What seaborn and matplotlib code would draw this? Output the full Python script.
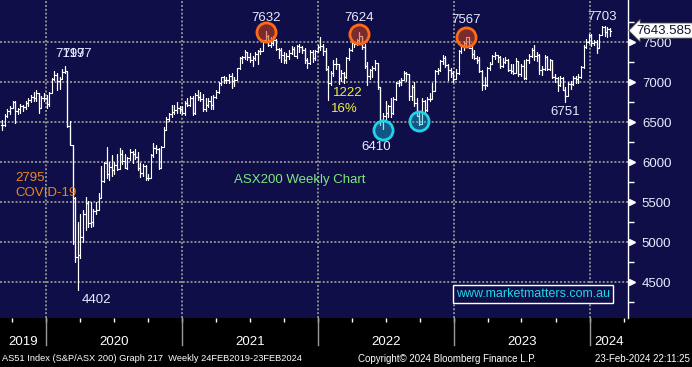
import matplotlib
matplotlib.use("Agg")
import matplotlib.pyplot as plt
import matplotlib.transforms as mtransforms
from matplotlib.patches import Rectangle
import numpy as np
import pandas as pd
import seaborn as sns

# ---------- weekly bars (Sep 2019 .. 23 Feb 2024) ----------
wk_high = [
    # 2019
    6530, 6600, 6660, 6700,
    6770, 6760, 6680, 6730,
    6720, 6760, 6800, 6840, 6880,
    6900, 6870, 6830, 6860,
    # 2020
    6840, 6880, 7050, 7140, 7110,
    7060, 7160, 7197, 7140,
    6520, 6220, 5560, 5250,
    5350, 5400, 5560, 5520,
    5500, 5420, 5500, 5610, 5950,
    6000, 6190, 6000, 6090,
    6000, 6100, 6175, 6150, 6100,
    6070, 6160, 6140, 6160,
    6130, 5990, 5980, 5960,
    5850, 6100, 6240, 6210, 6180,
    6200, 6440, 6560, 6620,
    6710, 6710, 6750, 6700,
    # 2021
    6700, 6760, 6800, 6830, 6830,
    6860, 6900, 6880, 6850,
    6800, 6800, 6830, 6840,
    6900, 7000, 7070, 7080, 7070,
    7100, 7110, 7060, 7180,
    7310, 7320, 7400, 7380,
    7360, 7330, 7380, 7400, 7420,
    7530, 7632, 7590, 7560,
    7570, 7540, 7430, 7420,
    7380, 7360, 7400, 7450, 7440,
    7460, 7470, 7450, 7420,
    7300, 7400, 7400, 7400, 7460,
    # 2022
    7560, 7480, 7420, 7200,
    7140, 7280, 7300, 7230,
    7150, 7130, 7310, 7420,
    7500, 7500, 7540, 7624, 7580,
    7480, 7250, 7160, 7200,
    7280, 7240, 6940, 6620,
    6760, 6720, 6800, 6820, 7000,
    7030, 7050, 7140, 7130,
    7100, 6960, 7000, 6800, 6620,
    6800, 6780, 6820, 6860,
    6990, 7150, 7180, 7280,
    7340, 7330, 7230, 7180, 7140,
    # 2023
    7160, 7400, 7480, 7510,
    7567, 7560, 7480, 7400,
    7320, 7310, 7150, 7060, 7190,
    7250, 7340, 7370, 7330,
    7320, 7300, 7310, 7290,
    7220, 7220, 7300, 7260, 7220,
    7280, 7290, 7350, 7430,
    7460, 7380, 7350, 7200,
    7340, 7320, 7290, 7280, 7100,
    7070, 7080, 7070, 6940,
    7000, 7010, 7080, 7080,
    7100, 7200, 7460, 7540, 7600,
    # 2024
    7600, 7530, 7520, 7600,
    7703, 7700, 7690, 7670,
]

wk_low = [
    # 2019
    6400, 6450, 6560, 6600,
    6680, 6490, 6600, 6620,
    6640, 6660, 6700, 6750, 6770,
    6760, 6610, 6680, 6760,
    # 2020
    6680, 6700, 6870, 7030, 6900,
    6920, 7040, 7110, 6440,
    6210, 4980, 4760, 4402,
    4810, 5000, 5150, 5190,
    5190, 5200, 5350, 5400, 5550,
    5750, 5800, 5775, 5830,
    5850, 5900, 5920, 5980, 5930,
    5920, 6030, 5990, 6040,
    5900, 5820, 5830, 5780,
    5775, 5800, 6060, 6120, 5920,
    5930, 6190, 6400, 6510,
    6560, 6600, 6620, 6620,
    # 2021
    6600, 6590, 6700, 6700, 6590,
    6600, 6780, 6760, 6640,
    6640, 6690, 6660, 6670,
    6800, 6860, 6960, 6990, 6990,
    6990, 6930, 6950, 7030,
    7170, 7240, 7290, 7280,
    7250, 7200, 7280, 7230, 7350,
    7390, 7500, 7450, 7440,
    7460, 7400, 7300, 7250,
    7240, 7240, 7290, 7350, 7320,
    7300, 7380, 7360, 7240,
    7180, 7230, 7250, 7280, 7370,
    # 2022
    7400, 7340, 7150, 6780,
    6960, 7080, 7160, 6980,
    7010, 6990, 7050, 7280,
    7390, 7440, 7460, 7500, 7410,
    7180, 6960, 7040, 7060,
    7150, 6920, 6470, 6410,
    6540, 6560, 6570, 6600, 6780,
    6950, 6960, 7030, 7010,
    6780, 6780, 6700, 6580, 6470,
    6480, 6620, 6640, 6760,
    6790, 6900, 7100, 7140,
    7230, 7190, 7030, 7070, 7000,
    # 2023
    7040, 7100, 7360, 7400,
    7450, 7430, 7300, 7290,
    7240, 7130, 6900, 6910, 6950,
    7150, 7220, 7290, 7250,
    7180, 7190, 7240, 7140,
    7120, 7100, 7110, 7080, 7080,
    7040, 7040, 7240, 7310,
    7280, 7260, 7100, 7090,
    7150, 7150, 7150, 7050, 7000,
    6890, 6950, 6900, 6751,
    6830, 6920, 6960, 6990,
    6990, 7050, 7180, 7420, 7490,
    # 2024
    7450, 7460, 7360, 7420,
    7590, 7580, 7560, 7580,
]

wk_close = [
    # 2019
    6460, 6580, 6640, 6680,
    6750, 6640, 6660, 6700,
    6690, 6740, 6780, 6820, 6800,
    6870, 6680, 6800, 6800,
    # 2020
    6730, 6870, 7040, 7090, 7010,
    7040, 7130, 7140, 6450,
    6220, 5550, 4820, 4840,
    5070, 5350, 5490, 5240,
    5250, 5390, 5410, 5550, 5760,
    5990, 5850, 5940, 5900,
    5960, 5920, 6100, 6020, 5930,
    6050, 6130, 6100, 6070,
    5930, 5860, 5950, 5800,
    5800, 6090, 6180, 6170, 5930,
    6190, 6400, 6540, 6600,
    6630, 6650, 6680, 6660,
    # 2021
    6620, 6740, 6710, 6800, 6610,
    6840, 6810, 6790, 6670,
    6710, 6770, 6710, 6820,
    6880, 6990, 7060, 7030, 7025,
    7080, 7010, 7030, 7180,
    7300, 7310, 7370, 7310,
    7280, 7300, 7350, 7390, 7390,
    7520, 7580, 7460, 7490,
    7520, 7410, 7400, 7340,
    7280, 7320, 7360, 7410, 7320,
    7450, 7440, 7400, 7280,
    7240, 7370, 7300, 7390, 7440,
    # 2022
    7450, 7390, 7170, 6990,
    7120, 7220, 7220, 7050,
    7110, 7060, 7300, 7400,
    7490, 7480, 7520, 7580, 7440,
    7200, 7080, 7150, 7180,
    7240, 6940, 6530, 6580,
    6620, 6700, 6610, 6790, 6990,
    7000, 7030, 7110, 7100,
    6830, 6940, 6740, 6580, 6475,
    6760, 6650, 6790, 6790,
    6890, 7140, 7150, 7260,
    7300, 7210, 7150, 7110, 7040,
    # 2023
    7110, 7390, 7450, 7490,
    7560, 7430, 7350, 7300,
    7280, 7140, 6960, 6960, 7180,
    7230, 7330, 7340, 7310,
    7200, 7250, 7280, 7150,
    7140, 7120, 7260, 7100, 7200,
    7050, 7280, 7320, 7400,
    7320, 7340, 7150, 7160,
    7310, 7160, 7280, 7070, 7050,
    6960, 7050, 6900, 6830,
    6980, 6980, 7050, 7040,
    7070, 7190, 7440, 7500, 7590,
    # 2024
    7490, 7500, 7420, 7590,
    7690, 7620, 7660, 7643.585,
]
last_price = 7643.585

peak_dates = ["2020-02-21", "2020-02-21", "2021-08-13", "2022-04-22", "2023-02-03", "2024-02-02"]
peak_vals = [7197, 7197, 7632, 7624, 7567, 7703]
low_dates = ["2020-03-27", "2022-06-24", "2023-10-27"]
low_vals = [4402, 6410, 6751]

ring_top_dates = ["2021-08-13", "2022-04-22", "2023-02-03"]
ring_top_vals = [7625, 7600, 7560]
ring_low_dates = ["2022-06-24", "2022-09-30"]
ring_low_vals = [6400, 6510]

years = ["2019", "2020", "2021", "2022", "2023", "2024"]
ytick_vals = [4500, 5000, 5500, 6000, 6500, 7000, 7500]

NAVY = "#0f0e48"
GRID = "#8c8c8c"
LBL = "#e6ecff"

# ---------- long table: one polyline per weekly bar ----------
n = min(len(wk_high), len(wk_low), len(wk_close))
dates = pd.date_range(end="2024-02-23", periods=n, freq="W-FRI")
opens = [wk_close[0]] + wk_close[:n - 1]
half = pd.Timedelta(days=2.6)
rows = []
for i, d in enumerate(dates):
    for x, y in [(d - half, opens[i]), (d, opens[i]), (d, wk_low[i]),
                 (d, wk_high[i]), (d, wk_close[i]), (d + half, wk_close[i])]:
        rows.append({"date": x, "price": y, "bar": i})
bars = pd.DataFrame(rows)

plt.rcParams["font.family"] = ["Liberation Sans", "DejaVu Sans"]

fig = plt.figure(figsize=(6.92, 3.67), dpi=100, facecolor="black")
ax = fig.add_axes([0, 49 / 367, 628 / 692, 318 / 367])
ax.set_facecolor(NAVY)
fig.add_artist(Rectangle((628 / 692, 49 / 367), 64 / 692, 318 / 367,
                         transform=fig.transFigure, facecolor=NAVY,
                         edgecolor="none", zorder=-1))

sns.lineplot(data=bars, x="date", y="price", units="bar", estimator=None,
             sort=False, color="white", linewidth=0.8, ax=ax)
ax.set_xlabel("")
ax.set_ylabel("")

x0, x1 = pd.Timestamp("2019-08-31"), pd.Timestamp("2024-04-12")
ax.set_xlim(x0, x1)
ax.set_ylim(4056, 8025)

bx = mtransforms.blended_transform_factory(ax.transData, ax.transAxes)
by = mtransforms.blended_transform_factory(ax.transAxes, ax.transData)

# ---- y axis on the right ----
ax.yaxis.tick_right()
ax.set_yticks(ytick_vals)
ax.set_yticklabels([str(v) for v in ytick_vals])
ax.set_yticks(np.arange(4250, 8000, 250), minor=True)
ax.tick_params(axis="y", which="major", length=0, pad=10, labelsize=9.5,
               labelcolor=LBL)
ax.tick_params(axis="y", which="minor", length=4, width=1, color="white")
ax.plot(np.full(len(ytick_vals), 1.007), ytick_vals, ls="none", marker=">",
        ms=5, color="white", transform=by, clip_on=False)
ax.grid(axis="y", which="major", color=GRID, ls=(0, (1, 1)), lw=1.4)
ax.grid(axis="x", visible=False)
for side in ["top", "left", "bottom"]:
    ax.spines[side].set_visible(False)
ax.spines["right"].set_color("white")
ax.spines["right"].set_linewidth(1)

# ---- x axis: quarter ticks, year separators and labels ----
quarters = pd.date_range("2019-10-01", "2024-04-01", freq="QS")
ax.set_xticks(quarters)
ax.tick_params(axis="x", length=3, width=1, color="white", labelbottom=False)
year_starts = pd.to_datetime([f"{y}-01-01" for y in years[1:]])
for d in year_starts:
    ax.axvline(d, color=GRID, ls=(0, (1, 1)), lw=1.4, zorder=0.5)
    ax.plot([d, d], [0, -0.085], transform=bx, color="#9a9a9a", lw=1,
            clip_on=False)
bounds = [x0] + list(year_starts) + [x1]
for i, y in enumerate(years):
    mid = bounds[i] + (bounds[i + 1] - bounds[i]) / 2
    ax.text(mid, -0.076, y, transform=bx, ha="center", va="center",
            color="white", fontsize=9.5, clip_on=False)

# ---- rings ----
ax.scatter(pd.to_datetime(ring_top_dates), ring_top_vals, s=190,
           facecolors=[(0.82, 0.27, 0.1, 0.55)], edgecolors="#ff6a13",
           linewidths=2, zorder=4)
ax.scatter(pd.to_datetime(ring_low_dates), ring_low_vals, s=190,
           facecolors=[(0.1, 0.72, 0.85, 0.42)], edgecolors="#22d3e6",
           linewidths=2, zorder=4)

# ---- value labels (the two 7197 tags overlap in the original too) ----
peak_off = [(4, 9), (9, 9), (0, 9.5), (0, 10), (0, 12), (0, 6.5)]
for d, v, off in zip(peak_dates, peak_vals, peak_off):
    ax.annotate(str(v), (pd.Timestamp(d), v), xytext=off,
                textcoords="offset points", ha="center", va="center",
                color=LBL, fontsize=9.5)
low_off = [(13.5, -7), (-5, -13), (0, -7.5)]
for d, v, off in zip(low_dates, low_vals, low_off):
    ax.annotate(str(v), (pd.Timestamp(d), v), xytext=off,
                textcoords="offset points", ha="center", va="center",
                color=LBL, fontsize=9.5)

ax.text(0.554, 0.708, "1222", transform=ax.transAxes, ha="center",
        va="center", color="#eef03c", fontsize=9.5)
ax.text(0.549, 0.657, "16%", transform=ax.transAxes, ha="center",
        va="center", color="#eef03c", fontsize=9.5)
ax.text(0.024, 0.44, "2795", transform=ax.transAxes, ha="left",
        va="center", color="#ec8a1e", fontsize=9.5)
ax.text(0.024, 0.393, "COVID-19", transform=ax.transAxes, ha="left",
        va="center", color="#ec8a1e", fontsize=9.5)
ax.text(0.478, 0.434, "ASX200 Weekly Chart", transform=ax.transAxes,
        ha="center", va="center", color="#7ee87e", fontsize=9.5)
ax.text(0.849, 0.075, "www.marketmatters.com.au", transform=ax.transAxes,
        ha="center", va="center", color="#1ed6e8", fontsize=9,
        bbox=dict(boxstyle="square,pad=0.22", fc=NAVY, ec="white", lw=1))

# ---- last price tag ----
ax.text(1.014, last_price, f"{last_price:.3f}", transform=by, ha="left",
        va="center", color="#111133", fontsize=9.5, clip_on=False, zorder=6,
        bbox=dict(boxstyle="larrow,pad=0.12", fc="white", ec="#444444",
                  lw=0.6))

# ---- footer ----
fig.text(0.003, 0.022, "AS51 Index (S&P/ASX 200) Graph 217  Weekly 24FEB2019-23FEB2024",
         color="white", fontsize=6.7, ha="left", va="center")
fig.text(0.646, 0.022, "Copyright\u00a9 2024 Bloomberg Finance L.P.",
         color="white", fontsize=7, ha="center", va="center")
fig.text(0.997, 0.022, "23-Feb-2024 22:11:25", color="white", fontsize=7,
         ha="right", va="center")

fig.savefig("out.png", dpi=100, facecolor="black")
